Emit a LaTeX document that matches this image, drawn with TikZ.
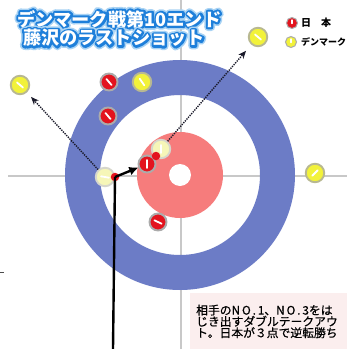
\documentclass[tikz,border=0pt]{standalone}
\usepackage{fontspec}
\newfontfamily\jp{Noto Sans CJK JP}
\usetikzlibrary{arrows.meta,calc}
\definecolor{ringblue}{HTML}{6C7CC6}
\definecolor{ringred}{HTML}{F67C7C}
\definecolor{stred}{HTML}{E3141E}
\definecolor{styel}{HTML}{F2F23A}
\definecolor{stgray}{HTML}{ABABAB}
\definecolor{fadeyel}{HTML}{F6F6B8}
\definecolor{fadegray}{HTML}{D6D6CC}
\definecolor{linegray}{HTML}{C8C8C8}
\definecolor{boxpink}{HTML}{FBEEEE}
\definecolor{dotcol}{HTML}{1A1A2A}
\newcommand\outl[1]{%
 \rlap{\special{pdf:literal direct 1 Tr 7.4 w 1 j 1 J 0.663 0.827 0.957 RG}#1\special{pdf:literal direct 0 Tr 0.3985 w 0 j 0 J 0 G}}%
 \rlap{\special{pdf:literal direct 1 Tr 4.2 w 1 j 1 J 0.118 0.498 0.855 RG}#1\special{pdf:literal direct 0 Tr 0.3985 w 0 j 0 J 0 G}}%
 {\color{white}#1}}
\newcommand\wide[1]{{\addfontfeature{LetterSpace=16}#1}}
\tikzset{
 stone/.style={circle, minimum size=18.5, inner sep=0, line width=1.9, draw=stgray},
 redst/.style={stone, minimum size=17, fill=stred},
 yelst/.style={stone, fill=styel, draw=stgray!85!yellow},
 fadest/.style={stone, fill=fadeyel, draw=fadegray},
 handle/.style={path picture={\draw[white, line width=1.8, line cap=round] ($(path picture bounding box.center)+(#1:4)$) -- ($(path picture bounding box.center)+(#1+180:4)$);}},
 minihandle/.style={path picture={\draw[white, line width=1.4, line cap=round] ($(path picture bounding box.center)+(-90:3)$) -- ($(path picture bounding box.center)+(0,0.5)$);}},
 hitdot/.style={circle, fill=stred, minimum size=8.5, inner sep=0},
 dotarrow/.style={dotcol, line width=1.4, dash pattern=on 1.3pt off 1.1pt, -{Stealth[length=8,width=6.5]}},
 shot/.style={black, line width=2.4},
 legtext/.style={anchor=west, inner sep=0, font=\jp\bfseries\fontsize{#1}{12}\selectfont},
 titletext/.style={anchor=west, inner sep=0, font=\jp\bfseries\fontsize{18.2}{20}\selectfont},
}
\begin{document}
\begin{tikzpicture}[x=1pt,y=-1pt]
\useasboundingbox (0,0) rectangle (347,349);
\fill[white] (0,0) rectangle (347,349);
% lines
\draw[linegray, line width=2] (8,176) -- (347,176);
\draw[linegray, line width=2] (181,0) -- (181,349);
% house
\fill[ringblue, even odd rule] (180,175) circle[radius=115] (180,175) circle[radius=80];
\fill[ringred] (180,175) circle[radius=43];
\fill[white] (180,175) circle[radius=11];
% title
\node[titletext] (t1) at (17,19) {\outl{デンマーク戦第10エンド}};
\node[titletext] (t2) at (23,38) {\outl{藤沢のラストショット}};
% tiny mark
\draw[black!70, line width=0.8] (0,272) -- (4,272);
% text box
\node[fill=boxpink, anchor=north west, minimum width=157, minimum height=56, inner sep=0] (box) at (190,293) {};
\node[anchor=north west, inner sep=0, align=left, font=\jp\addfontfeature{FakeBold=0.6}\fontsize{11.8}{11.3}\selectfont] (txt) at (196,304.5) {相手の\wide{NO.1}、\wide{NO.3}をは\\じき出すダブルテークアウ\\ト。日本が３点で逆転勝ち};
% stones
\node[yelst, handle=40] (y1) at (20,85) {};
\node[redst, handle=50] (r1) at (109,82) {};
\node[yelst, handle=55] (y2) at (142,82) {};
\node[redst, handle=50] (r2) at (108,116) {};
\node[yelst, handle=40] (y3) at (258,37) {};
\node[fadest, handle=10] (f1) at (105,177) {};
\node[redst, handle=90] (r3) at (147,164) {};
\node[fadest, handle=90] (f2) at (161,149) {};
\node[redst, handle=25] (r4) at (158,222) {};
\node[yelst, handle=-45] (y4) at (315,173) {};
\node[hitdot] (d1) at (115,177) {};
\node[hitdot] (d2) at (156,156) {};
% paths
\coordinate (bot) at (113,349);
\draw[shot] (bot) -- (d1.center);
\draw[shot, -{Latex[length=9,width=9]}] (d1.center) -- (r3);
\draw[dotarrow, shorten >=6] (f1) -- (y1);
\draw[dotarrow, shorten >=8] (f2) -- (y3);
% legend
\node[circle, fill=stred, draw=stgray, line width=1, minimum size=11, inner sep=0, minihandle] (lr) at (292,23) {};
\node[circle, fill=styel, draw=stgray, line width=1, minimum size=11, inner sep=0, minihandle] (ly) at (291,42) {};
\node[legtext=10] (lt1) at (301,23) {日　本};
\node[legtext=9] (lt2) at (301,42) {デンマーク};
\end{tikzpicture}
\end{document}
